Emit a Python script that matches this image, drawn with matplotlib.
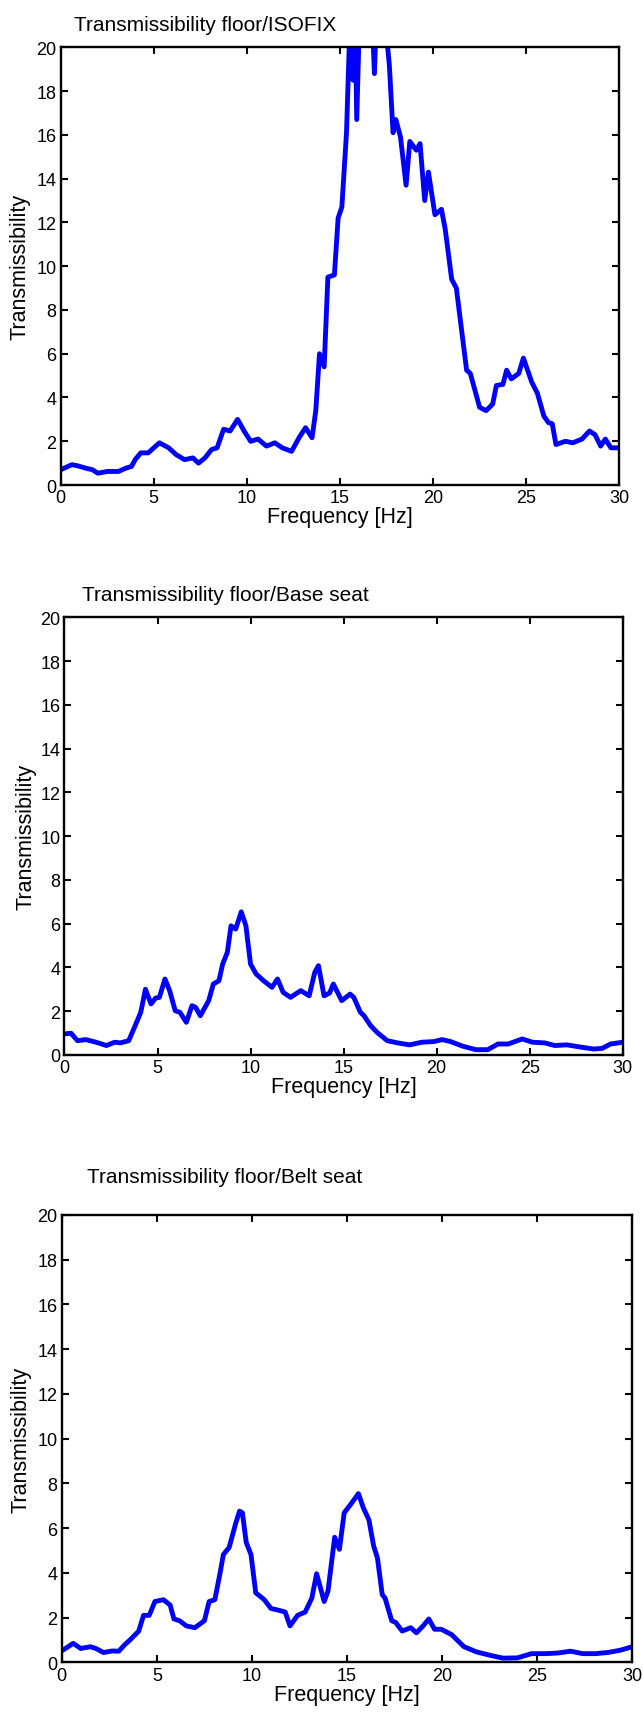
import numpy as np
import matplotlib
matplotlib.use("Agg")
import matplotlib.pyplot as plt

plt.rcParams['font.family'] = ['Liberation Sans', 'DejaVu Sans']

# === Transmissibility curves, read at irregular frequencies ===
isofix_f = [0.0, 0.6, 0.9, 1.35, 1.7, 2.0, 2.5, 3.1, 3.5, 3.8, 4.0, 4.3, 4.7, 5.0,
            5.3, 5.8, 6.2, 6.65, 7.1, 7.4, 7.75, 8.1, 8.4, 8.75, 9.1, 9.5, 9.85,
            10.2, 10.6, 11.05, 11.5, 11.9, 12.4, 12.8, 13.15, 13.5, 13.7, 13.9,
            14.15, 14.35, 14.7, 14.9, 15.1, 15.35, 15.55, 15.7, 15.8, 15.9, 16.1,
            16.4, 16.7, 16.85, 17.0, 17.45, 17.65, 17.85, 18.0, 18.25, 18.55,
            18.75, 19.1, 19.3, 19.55, 19.75, 20.1, 20.45, 20.65, 21.0, 21.25,
            21.8, 22.0, 22.5, 22.85, 23.2, 23.4, 23.75, 23.95, 24.2, 24.6, 24.85,
            25.3, 25.6, 25.95, 26.2, 26.4, 26.6, 27.1, 27.5, 28.0, 28.4, 28.7,
            29.0, 29.25, 29.55, 30.0]
isofix_t = [0.7, 0.93, 0.88, 0.77, 0.7, 0.54, 0.62, 0.62, 0.77, 0.85, 1.16, 1.47,
            1.47, 1.7, 1.93, 1.7, 1.39, 1.16, 1.24, 1.0, 1.24, 1.62, 1.7, 2.55,
            2.47, 3.0, 2.47, 2.0, 2.1, 1.78, 1.93, 1.7, 1.54, 2.16, 2.62, 2.16,
            3.4, 6.0, 5.4, 9.5, 9.6, 12.2, 12.7, 16.1, 21.5, 18.5, 22.0, 16.7,
            23.0, 24.0, 22.0, 18.8, 22.5, 21.0, 19.2, 16.1, 16.7, 15.9, 13.7,
            15.7, 15.3, 15.6, 13.0, 14.3, 12.35, 12.6, 11.7, 9.4, 9.0, 5.25, 5.1,
            3.55, 3.4, 3.7, 4.55, 4.6, 5.25, 4.85, 5.1, 5.8, 4.7, 4.2, 3.15, 2.85,
            2.8, 1.85, 2.0, 1.93, 2.1, 2.47, 2.3, 1.78, 2.1, 1.7, 1.7]

base_f = [0.0, 0.35, 0.7, 1.15, 1.7, 2.25, 2.7, 3.0, 3.45, 3.8, 4.1, 4.35, 4.65,
          4.9, 5.1, 5.4, 5.65, 5.95, 6.2, 6.55, 6.85, 7.05, 7.3, 7.75, 8.0, 8.3,
          8.5, 8.75, 8.95, 9.2, 9.5, 9.75, 10.0, 10.3, 10.7, 11.15, 11.45, 11.75,
          12.15, 12.7, 13.15, 13.45, 13.65, 13.95, 14.25, 14.45, 14.9, 15.35,
          15.55, 15.9, 16.1, 16.45, 16.8, 17.35, 17.9, 18.55, 19.2, 19.85, 20.3,
          20.75, 21.4, 22.1, 22.75, 23.3, 23.85, 24.6, 25.15, 25.8, 26.35, 27.0,
          27.8, 28.45, 28.9, 29.35, 30.0]
base_t = [0.96, 0.99, 0.65, 0.7, 0.58, 0.43, 0.58, 0.55, 0.65, 1.34, 1.95, 3.0,
          2.33, 2.6, 2.63, 3.47, 2.94, 2.02, 1.95, 1.49, 2.25, 2.17, 1.79, 2.48,
          3.24, 3.39, 4.15, 4.68, 5.9, 5.75, 6.54, 5.9, 4.15, 3.7, 3.39, 3.09,
          3.47, 2.86, 2.63, 2.94, 2.7, 3.77, 4.08, 2.7, 2.83, 3.24, 2.48, 2.78,
          2.63, 1.95, 1.79, 1.34, 1.03, 0.65, 0.55, 0.46, 0.58, 0.61, 0.7, 0.61,
          0.4, 0.24, 0.24, 0.5, 0.5, 0.73, 0.58, 0.55, 0.43, 0.46, 0.35, 0.27,
          0.3, 0.5, 0.58]

belt_f = [0.05, 0.6, 1.0, 1.5, 1.8, 2.2, 2.65, 3.0, 3.3, 3.6, 4.05, 4.3, 4.6, 4.9,
          5.35, 5.7, 5.9, 6.2, 6.55, 7.0, 7.5, 7.75, 8.05, 8.3, 8.5, 8.8, 9.15,
          9.35, 9.5, 9.7, 9.95, 10.2, 10.65, 11.0, 11.4, 11.75, 12.0, 12.4, 12.8,
          13.15, 13.4, 13.8, 14.0, 14.35, 14.6, 14.85, 15.2, 15.6, 15.85, 16.15,
          16.4, 16.6, 16.85, 17.0, 17.35, 17.55, 17.9, 18.35, 18.65, 19.0, 19.3,
          19.6, 19.95, 20.5, 21.15, 21.8, 22.55, 23.2, 23.95, 24.7, 25.45, 26.1,
          26.75, 27.4, 28.05, 28.7, 29.35, 30.0]
belt_t = [0.54, 0.85, 0.62, 0.7, 0.62, 0.44, 0.51, 0.5, 0.78, 1.01, 1.4, 2.1, 2.1,
          2.72, 2.8, 2.56, 1.94, 1.86, 1.63, 1.55, 1.86, 2.72, 2.8, 3.88, 4.82,
          5.13, 6.22, 6.76, 6.68, 5.36, 4.82, 3.11, 2.8, 2.41, 2.33, 2.25, 1.63,
          2.1, 2.25, 2.87, 3.96, 2.72, 3.19, 5.59, 5.05, 6.68, 7.07, 7.54, 6.92,
          6.37, 5.2, 4.66, 3.03, 2.87, 1.86, 1.79, 1.4, 1.55, 1.32, 1.63, 1.94,
          1.48, 1.48, 1.24, 0.7, 0.47, 0.31, 0.19, 0.2, 0.39, 0.39, 0.42, 0.5,
          0.39, 0.39, 0.44, 0.54, 0.7]

titles = ["Transmissibility floor/ISOFIX",
          "Transmissibility floor/Base seat",
          "Transmissibility floor/Belt seat"]

# axes rectangles and title anchors in figure fractions
rects = [[0.0944, 0.7166, 0.8687, 0.2552],
         [0.1003, 0.3843, 0.8681, 0.2552],
         [0.0960, 0.0301, 0.8874, 0.2610]]
title_xy = [(0.115, 0.985), (0.1275, 0.6530), (0.135, 0.3135)]
ylabel_pad = [4, 3, 4]

fig = plt.figure(figsize=(6.43, 17.15), dpi=100)

curves = [(isofix_f, isofix_t), (base_f, base_t), (belt_f, belt_t)]
for i, ((f, t), rect, title, (tx, ty)) in enumerate(zip(curves, rects, titles, title_xy)):
    ax = fig.add_axes(rect)
    ax.plot(f, t, color='#0000ff', lw=3.5, solid_joinstyle='round')
    ax.set_xlim(0, 30)
    ax.set_ylim(0, 20)
    ax.set_xticks(np.arange(0, 31, 5))
    ax.set_yticks(np.arange(0, 21, 2))
    ax.tick_params(direction='in', top=True, right=True, length=5, width=1.5,
                   labelsize=13, pad=3)
    for sp in ax.spines.values():
        sp.set_linewidth(1.7)
    ax.set_xlabel("Frequency [Hz]", fontsize=15.5, labelpad=0)
    ax.set_ylabel("Transmissibility", fontsize=15.5, labelpad=ylabel_pad[i])
    fig.text(tx, ty, title, fontsize=15, ha='left', va='center')

fig.savefig("out.png", dpi=100)
